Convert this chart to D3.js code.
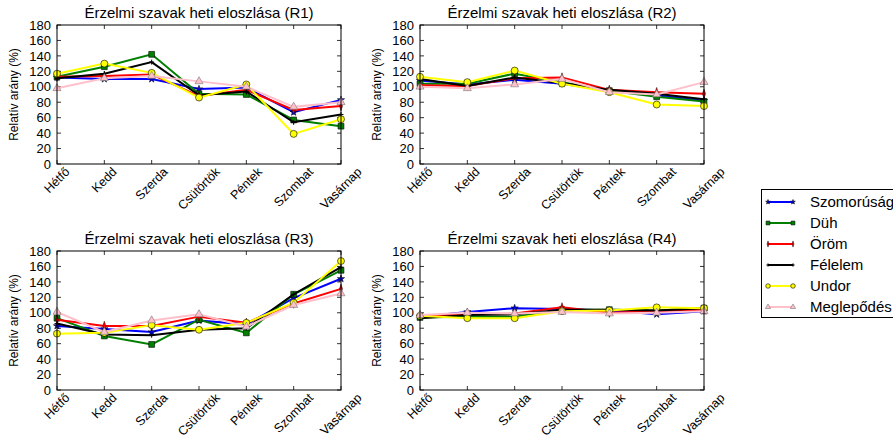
<!DOCTYPE html>
<html>
<head>
<meta charset="utf-8">
<script src="https://cdn.jsdelivr.net/npm/d3@7.9.0/dist/d3.min.js"></script>
<style>
  body { margin: 0; background: #fff; }
  svg { display: block; font-family: "Liberation Sans", Arial, sans-serif; }
</style>
</head>
<body>
<svg id="chart" width="893" height="439"></svg>
<script>
const days = ['Hétfő', 'Kedd', 'Szerda', 'Csütörtök', 'Péntek', 'Szombat', 'Vasárnap'];
const emotions = ['Szomorúság', 'Düh', 'Öröm', 'Félelem', 'Undor', 'Meglepődés'];
const yTicks = [0, 20, 40, 60, 80, 100, 120, 140, 160, 180];
const titles = ['Érzelmi szavak heti eloszlása (R1)', 'Érzelmi szavak heti eloszlása (R2)',
                'Érzelmi szavak heti eloszlása (R3)', 'Érzelmi szavak heti eloszlása (R4)'];

// rows follow the emotions order
const r1 = [
  [112, 110, 110, 97, 99, 67, 83],
  [113, 126, 142, 91, 90, 57, 49],
  [113, 114, 116, 88, 96, 70, 75],
  [111, 117, 132, 89, 94, 54, 64],
  [117, 130, 118, 86, 103, 39, 58],
  [98, 111, 114, 107, 100, 74, 80]
];
const r2 = [
  [108, 103, 109, 104, 95, 89, 82],
  [104, 104, 117, 106, 95, 87, 81],
  [102, 101, 111, 112, 96, 93, 91],
  [110, 101, 112, 105, 96, 91, 84],
  [113, 106, 121, 104, 93, 77, 75],
  [100, 98, 103, 110, 93, 90, 106]
];
const r3 = [
  [83, 79, 75, 90, 85, 119, 144],
  [93, 70, 59, 91, 74, 124, 155],
  [91, 83, 83, 95, 87, 112, 131],
  [86, 72, 71, 78, 80, 124, 159],
  [73, 74, 84, 78, 87, 113, 167],
  [101, 75, 90, 98, 82, 110, 125]
];
const r4 = [
  [95, 101, 106, 105, 103, 98, 102],
  [94, 95, 95, 104, 104, 103, 106],
  [96, 98, 99, 107, 100, 102, 104],
  [93, 97, 98, 104, 104, 103, 106],
  [96, 93, 93, 102, 103, 107, 106],
  [97, 100, 99, 101, 99, 100, 102]
];
const panelsData = [r1, r2, r3, r4];

const colors = ['#0000ff', '#008000', '#ff0000', '#000000', '#ffff00', '#ffc0cb'];
const markers = ['star', 'square', 'diamond', 'plus', 'circle', 'triangle'];

const svg = d3.select('#chart');
const panelPos = [[57, 25], [420, 25], [57, 251], [420, 251]];
const W = 284, H = 139;

const x = d3.scalePoint().domain(days).range([0, W]);
const y = d3.scaleLinear().domain([0, 180]).range([H, 0]);

function drawMarker(g, kind, cx, cy, color, k = 1) {
  if (kind === 'plus') {
    const r = 2.5 * k;
    g.append('path')
      .attr('d', `M${cx - r},${cy}H${cx + r}M${cx},${cy - r}V${cy + r}`)
      .attr('stroke', color).attr('stroke-width', 1);
    return;
  }
  let sym, size, sx = 1;
  if (kind === 'star') { sym = d3.symbolStar; size = 16; }
  if (kind === 'square') { sym = d3.symbolSquare; size = 34; }
  if (kind === 'diamond') { sym = d3.symbolDiamond; size = 26; sx = 0.55; }
  if (kind === 'circle') { sym = d3.symbolCircle; size = 38; }
  if (kind === 'triangle') { sym = d3.symbolTriangle; size = 28; }
  g.append('path')
    .attr('d', d3.symbol().type(sym).size(size * k * k)())
    .attr('transform', `translate(${cx},${cy}) scale(${sx},1)`)
    .attr('fill', color)
    .attr('stroke', kind === 'triangle' ? '#777' : '#000')
    .attr('stroke-width', 0.6);
}

panelsData.forEach((data, p) => {
  const [px, py] = panelPos[p];
  const g = svg.append('g').attr('transform', `translate(${px},${py})`);

  // title
  g.append('text')
    .attr('x', W / 2).attr('y', -7)
    .attr('text-anchor', 'middle')
    .attr('font-size', 15)
    .attr('fill', '#000')
    .text(titles[p]);

  // y label
  g.append('text')
    .attr('transform', `translate(${-39},${H / 2}) rotate(-90)`)
    .attr('text-anchor', 'middle')
    .attr('font-size', 12)
    .text('Relatív arány (%)');

  // y ticks + labels
  yTicks.forEach(t => {
    g.append('text')
      .attr('x', -6).attr('y', y(t))
      .attr('dy', '0.36em')
      .attr('text-anchor', 'end')
      .attr('font-size', 13)
      .text(t);
    g.append('line').attr('x1', 0).attr('x2', 4).attr('y1', y(t)).attr('y2', y(t))
      .attr('stroke', '#000').attr('stroke-width', 0.8);
    g.append('line').attr('x1', W).attr('x2', W - 4).attr('y1', y(t)).attr('y2', y(t))
      .attr('stroke', '#000').attr('stroke-width', 0.8);
  });

  // x ticks + rotated labels
  days.forEach(d => {
    g.append('line').attr('x1', x(d)).attr('x2', x(d)).attr('y1', H).attr('y2', H - 4)
      .attr('stroke', '#000').attr('stroke-width', 0.8);
    g.append('line').attr('x1', x(d)).attr('x2', x(d)).attr('y1', 0).attr('y2', 4)
      .attr('stroke', '#000').attr('stroke-width', 0.8);
    const lbl = g.append('text')
      .attr('text-anchor', 'middle')
      .attr('dominant-baseline', 'central')
      .attr('font-size', 12.5)
      .text(d);
    const w = lbl.node().getComputedTextLength();
    const half = (w + 8) / (2 * Math.SQRT2);
    lbl.attr('transform', `translate(${x(d)},${H + 3 + half}) rotate(-45)`);
  });

  // series
  const line = d3.line().x((v, i) => x(days[i])).y(v => y(v));
  data.forEach((vals, s) => {
    g.append('path')
      .attr('d', line(vals))
      .attr('fill', 'none')
      .attr('stroke', colors[s])
      .attr('stroke-width', 2);
    const mg = g.append('g');
    vals.forEach((v, i) => drawMarker(mg, markers[s], x(days[i]), y(v), colors[s]));
  });

  // frame
  g.append('rect')
    .attr('width', W).attr('height', H)
    .attr('fill', 'none')
    .attr('stroke', '#000').attr('stroke-width', 1);
});

// legend
const lg = svg.append('g');
lg.append('rect')
  .attr('x', 761.5).attr('y', 189.5)
  .attr('width', 200).attr('height', 128)
  .attr('fill', '#fff').attr('stroke', '#000').attr('stroke-width', 1);
emotions.forEach((e, i) => {
  const ly = 202 + i * 21;
  lg.append('line')
    .attr('x1', 768).attr('x2', 793).attr('y1', ly).attr('y2', ly)
    .attr('stroke', colors[i]).attr('stroke-width', 2);
  drawMarker(lg, markers[i], 768, ly, colors[i], 0.65);
  drawMarker(lg, markers[i], 793, ly, colors[i], 0.65);
  lg.append('text')
    .attr('x', 810).attr('y', ly)
    .attr('dy', '0.35em')
    .attr('font-size', 15)
    .text(e);
});
</script>
</body>
</html>
